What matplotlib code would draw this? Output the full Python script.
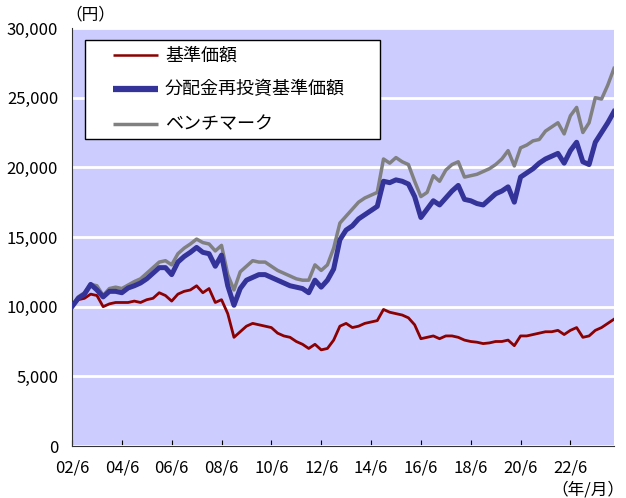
import matplotlib
matplotlib.use("Agg")
import matplotlib.pyplot as plt
from matplotlib.patches import Rectangle
from matplotlib.ticker import FuncFormatter

plt.rcParams['font.family'] = ['Noto Sans CJK JP', 'DejaVu Sans']

# months since 2002/6, quarterly
months = list(range(0, 262, 3))

nav = [10000, 10500, 10600, 10900, 10800, 10000, 10200, 10300, 10300, 10300,
       10400, 10300, 10500, 10600, 11000, 10800, 10400, 10900, 11100, 11200,
       11500, 11000, 11300, 10300, 10500, 9500, 7800, 8200, 8600, 8800,
       8700, 8600, 8500, 8100, 7900, 7800, 7500, 7300, 7000, 7300,
       6900, 7000, 7600, 8600, 8800, 8500, 8600, 8800, 8900, 9000,
       9800, 9600, 9500, 9400, 9200, 8700, 7700, 7800, 7900, 7700,
       7900, 7900, 7800, 7600, 7500, 7450, 7350, 7400, 7500, 7500,
       7600, 7200, 7900, 7900, 8000, 8100, 8200, 8200, 8300, 8000,
       8300, 8500, 7800, 7900, 8300, 8500, 8800, 9100]

reinvest = [10000, 10600, 10900, 11600, 11200, 10700, 11100, 11100, 11000, 11340,
            11500, 11700, 12000, 12400, 12800, 12800, 12300, 13200, 13600, 13900,
            14250, 13900, 13800, 12900, 13700, 11500, 10100, 11300, 11900, 12100,
            12300, 12300, 12100, 11900, 11700, 11500, 11400, 11300, 11000, 11900,
            11400, 11900, 12700, 14800, 15500, 15800, 16300, 16600, 16900, 17200,
            19000, 18900, 19100, 19000, 18800, 17900, 16400, 17000, 17600, 17300,
            17800, 18300, 18700, 17700, 17600, 17400, 17300, 17700, 18100, 18300,
            18600, 17500, 19300, 19600, 19900, 20300, 20600, 20800, 21000, 20300,
            21200, 21800, 20400, 20200, 21800, 22500, 23200, 24000]

bench = [10000, 10700, 11000, 11600, 11500, 10800, 11300, 11400, 11300, 11550,
         11800, 12000, 12400, 12800, 13200, 13300, 13000, 13800, 14200, 14500,
         14850, 14600, 14500, 14000, 14400, 12300, 11200, 12500, 12900, 13300,
         13200, 13200, 12900, 12600, 12400, 12200, 12000, 11900, 11900, 13000,
         12600, 13000, 14200, 16000, 16500, 17000, 17500, 17800, 18000, 18200,
         20600, 20300, 20700, 20400, 20200, 19000, 17900, 18200, 19400, 19000,
         19800, 20200, 20400, 19300, 19400, 19500, 19700, 19900, 20200, 20600,
         21200, 20100, 21400, 21600, 21900, 22000, 22600, 22900, 23200, 22400,
         23700, 24300, 22500, 23200, 25000, 24900, 25900, 27100]

xtick_pos = list(range(0, 241, 24))
xtick_labels = ["02/6", "04/6", "06/6", "08/6", "10/6", "12/6",
                "14/6", "16/6", "18/6", "20/6", "22/6"]
names = ["基準価額", "分配金再投資基準価額", "ベンチマーク"]
colors = ["#8B0000", "#333399", "#808080"]

fig = plt.figure(figsize=(6.26, 4.98), dpi=100)
ax = fig.add_axes([72/626, 52/498, 542/626, 418/498])
ax.set_facecolor("#CCCCFF")

ax.plot(months, bench, color=colors[2], lw=2.5, zorder=3)
ax.plot(months, nav, color=colors[0], lw=2, zorder=4)
ax.plot(months, reinvest, color=colors[1], lw=3.6, zorder=5)

ax.set_xlim(0, 261)
ax.set_ylim(0, 30000)
ax.set_yticks(range(0, 30001, 5000))
ax.yaxis.set_major_formatter(FuncFormatter(lambda v, p: f"{int(v):,}"))
ax.set_xticks(xtick_pos)
ax.set_xticklabels(xtick_labels)
ax.tick_params(axis='y', length=0, pad=10, labelsize=12)
ax.tick_params(axis='x', direction='in', length=4, pad=10, labelsize=12)
ax.grid(axis='y', color='white', lw=2)
ax.set_axisbelow(True)
for s in ['top', 'right']:
    ax.spines[s].set_visible(False)
ax.spines['left'].set_color('#333333')
ax.spines['bottom'].set_color('#333333')

# legend box drawn by hand to match the layout
tr = ax.transAxes
ax.add_patch(Rectangle((0.024, 0.734), 0.544, 0.237, transform=tr,
                       facecolor='white', edgecolor='black', lw=1, zorder=10))
rows = [0.935, 0.854, 0.770]
widths = [1.8, 4.5, 2.5]
for y, name, c, w in zip(rows, names, colors, widths):
    ax.plot([0.0756, 0.1587], [y, y], color=c, lw=w, transform=tr, zorder=11,
            solid_capstyle='butt')
    ax.text(0.1716, y, name, transform=tr, fontsize=13, va='center', zorder=11)

fig.text(65/626, 1 - 15/498, "（円）", fontsize=12, va='center', ha='left')
fig.text(624/626, 1 - 490/498, "（年/月）", fontsize=12, va='center', ha='right')

fig.savefig("out.png", dpi=100)
